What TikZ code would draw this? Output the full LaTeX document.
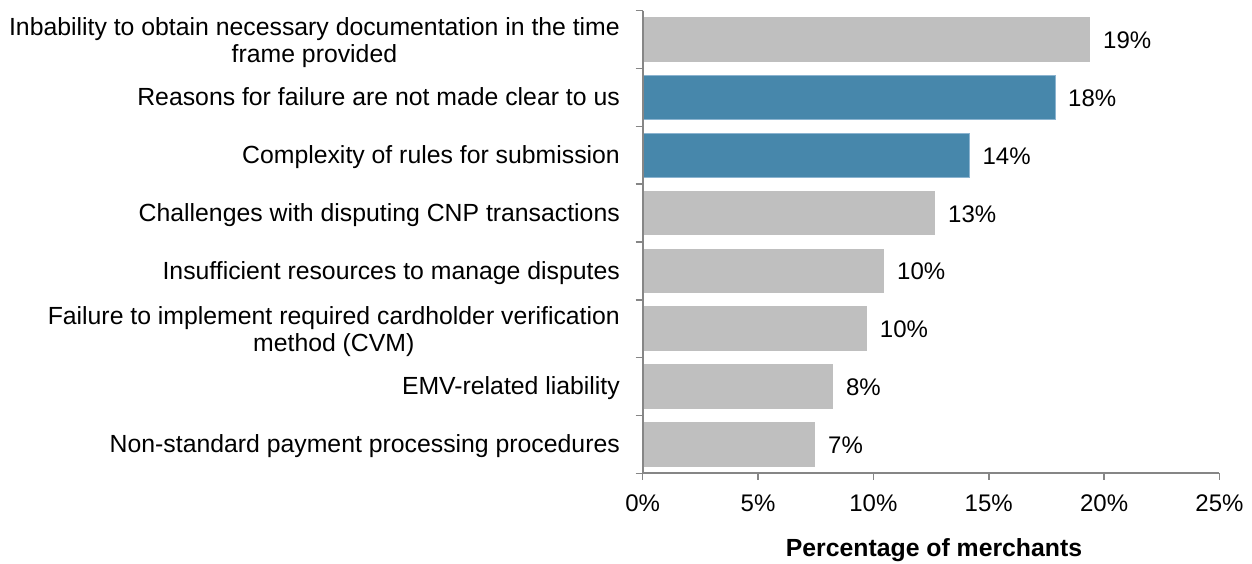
\documentclass[tikz,border=0pt]{standalone}
\usepackage{fontspec}
\setmainfont{Liberation Sans}
\definecolor{bargray}{RGB}{191,191,191}
\definecolor{barblue}{RGB}{71,135,171}
\definecolor{barblueedge}{RGB}{140,180,208}
\definecolor{axisgray}{RGB}{134,134,134}
\begin{document}
\begin{tikzpicture}[x=1pt,y=-1pt,
  every node/.style={font=\fontsize{24}{27.6}\selectfont, inner sep=0pt},
  graybar/.style={fill=bargray, draw=none},
  bluebar/.style={fill=barblue, draw=barblueedge, line width=0.8pt},
  axisline/.style={draw=axisgray, line width=2pt},
  tickline/.style={draw=axisgray, line width=1.5pt},
  wordfont/.style={font=\fontsize{24.8}{27.6}\selectfont},
  catlabel/.style={wordfont, anchor=base east},
  catlabeltwo/.style={wordfont, anchor=east, align=center},
  vallabel/.style={anchor=base west},
  ticklabel/.style={anchor=base},
  axistitle/.style={anchor=base, font=\bfseries\fontsize{24.8}{27.6}\selectfont}]
\useasboundingbox (0,0) rectangle (1252,563);
% geometry
\def\xo{642.7}\def\sc{23.07}\def\ytop{10.7}\def\band{57.83}\def\hb{22.3}
% bars
\foreach \v/\st [count=\i from 0] in {19.39/graybar,17.87/bluebar,14.16/bluebar,12.67/graybar,10.46/graybar,9.71/graybar,8.24/graybar,7.47/graybar}{
  \pgfmathsetmacro{\c}{\ytop+\band*(\i+0.5)}
  \pgfmathsetmacro{\xe}{\xo+\sc*\v}
  \path[\st] (\xo,\c-\hb) rectangle (\xe,\c+\hb);
  \coordinate (bend\i) at (\xe,\c);
}
% value labels
\foreach \t [count=\i from 0] in {19\%,18\%,14\%,13\%,10\%,10\%,8\%,7\%}{
  \node[vallabel] (val\i) at ([xshift=13pt,yshift=-9pt]bend\i) {\t};
}
% category labels
\pgfmathsetmacro{\ca}{\ytop+\band*0.5}
\pgfmathsetmacro{\cb}{\ytop+\band*1.5}
\pgfmathsetmacro{\cc}{\ytop+\band*2.5}
\pgfmathsetmacro{\cd}{\ytop+\band*3.5}
\pgfmathsetmacro{\ce}{\ytop+\band*4.5}
\pgfmathsetmacro{\cf}{\ytop+\band*5.5}
\pgfmathsetmacro{\cg}{\ytop+\band*6.5}
\pgfmathsetmacro{\ch}{\ytop+\band*7.5}
\node[catlabeltwo] (cat0) at (620,\ca+3) {Inbability to obtain necessary documentation in the time\\frame provided};
\node[catlabel] (cat1) at (620,\cb+8.3) {Reasons for failure are not made clear to us};
\node[catlabel] (cat2) at (620,\cc+8.3) {Complexity of rules for submission};
\node[catlabel] (cat3) at (620,\cd+8.3) {Challenges with disputing CNP transactions};
\node[catlabel] (cat4) at (620,\ce+8.3) {Insufficient resources to manage disputes};
\node[catlabeltwo] (cat5) at (620,\cf+3) {Failure to implement required cardholder verification\\method (CVM)};
\node[catlabel] (cat6) at (620,\cg+8.3) {EMV-related liability};
\node[catlabel] (cat7) at (620,\ch+8.3) {Non-standard payment processing procedures};
% axes
\pgfmathsetmacro{\ybot}{\ytop+\band*8}
\coordinate (origin) at (\xo,\ybot);
\coordinate (ytopc) at (\xo,\ytop);
\coordinate (xend) at (\xo+\sc*25,\ybot);
\draw[axisline] (ytopc) -- (origin) -- (xend);
\foreach \k in {0,...,8}{
  \draw[tickline] (\xo-7,\ytop+\band*\k) -- (\xo,\ytop+\band*\k);
}
\foreach \p in {0,5,...,25}{
  \draw[tickline] (\xo+\sc*\p,\ybot) -- (\xo+\sc*\p,\ybot+7);
  \node[ticklabel] (tick\p) at (\xo+\sc*\p,511.5) {\p\%};
}
\node[axistitle] (xtitle) at (934,556.5) {Percentage of merchants};
\end{tikzpicture}
\end{document}
